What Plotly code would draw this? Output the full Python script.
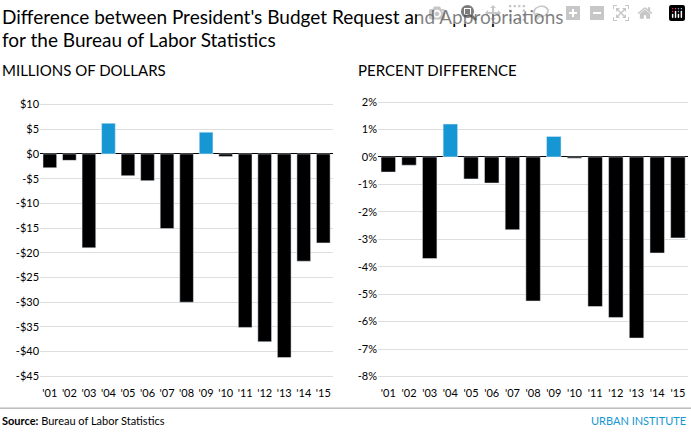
import plotly.graph_objects as go

years = ["'01", "'02", "'03", "'04", "'05", "'06", "'07", "'08", "'09", "'10", "'11", "'12", "'13", "'14", "'15"]
millions = [-2.8, -1.3, -19.0, 6.2, -4.4, -5.4, -15.1, -30.0, 4.4, -0.5, -35.1, -38.0, -41.2, -21.7, -18.0]
percent = [-0.55, -0.3, -3.7, 1.2, -0.8, -0.95, -2.65, -5.25, 0.75, -0.05, -5.45, -5.85, -6.6, -3.5, -2.95]

def colors(vals):
    return ["#1696d2" if v > 0 else "#000000" for v in vals]

fig = go.Figure()
fig.add_trace(go.Bar(x=years, y=millions, marker_color=colors(millions), xaxis="x", yaxis="y"))
fig.add_trace(go.Bar(x=years, y=percent, marker_color=colors(percent), xaxis="x2", yaxis="y2"))

font = dict(family="Lato, Open Sans, sans-serif", size=11, color="#000")
ax = dict(showgrid=False, ticks="", tickfont=font, showline=False)
gy = dict(showgrid=True, gridcolor="#dedede", zeroline=True, zerolinecolor="#000",
          zerolinewidth=1, ticks="", tickfont=font)

def note(text, x, y, size, xanchor="left", color="#000"):
    return dict(text=text, x=x, y=y, xref="paper", yref="paper", xanchor=xanchor,
                yanchor="middle", showarrow=False,
                font=dict(family="Lato, sans-serif", size=size, color=color))

fig.update_layout(
    width=691, height=438, showlegend=False, bargap=0.3,
    paper_bgcolor="white", plot_bgcolor="white",
    margin=dict(l=0, r=0, t=0, b=0),
    xaxis=dict(domain=[0.058, 0.482], anchor="y", **ax),
    yaxis=dict(domain=[0.121, 0.783], range=[-46.8, 11.6],
               tickvals=list(range(-45, 11, 5)),
               ticktext=[("$%d" % v if v >= 0 else "-$%d" % -v) for v in range(-45, 11, 5)],
               anchor="x", **gy),
    xaxis2=dict(domain=[0.547, 0.996], anchor="y2", **ax),
    yaxis2=dict(domain=[0.121, 0.783], range=[-8.32, 2.2],
                tickvals=list(range(-8, 3)), ticktext=["%d%%" % v for v in range(-8, 3)],
                anchor="x2", **gy),
    annotations=[
        note("Difference between President's Budget Request and Appropriations", 0.0, 1 - 15 / 438, 19),
        note("for the Bureau of Labor Statistics", 0.0, 1 - 38 / 438, 19),
        note("MILLIONS OF DOLLARS", 0.0, 1 - 68 / 438, 15),
        note("PERCENT DIFFERENCE", 0.515, 1 - 68 / 438, 15),
        note("<b>Source:</b> Bureau of Labor Statistics", 0.0, 1 - 420 / 438, 11),
        note("URBAN INSTITUTE", 0.995, 1 - 420 / 438, 11, xanchor="right", color="#1696d2"),
    ],
)
fig.add_shape(type="line", xref="paper", yref="paper", x0=0, x1=1, y0=1 - 408 / 438, y1=1 - 408 / 438,
              line=dict(color="#999", width=1))

fig.write_html("out.html", post_script="document.body.style.margin='0';document.body.style.overflow='hidden';")
